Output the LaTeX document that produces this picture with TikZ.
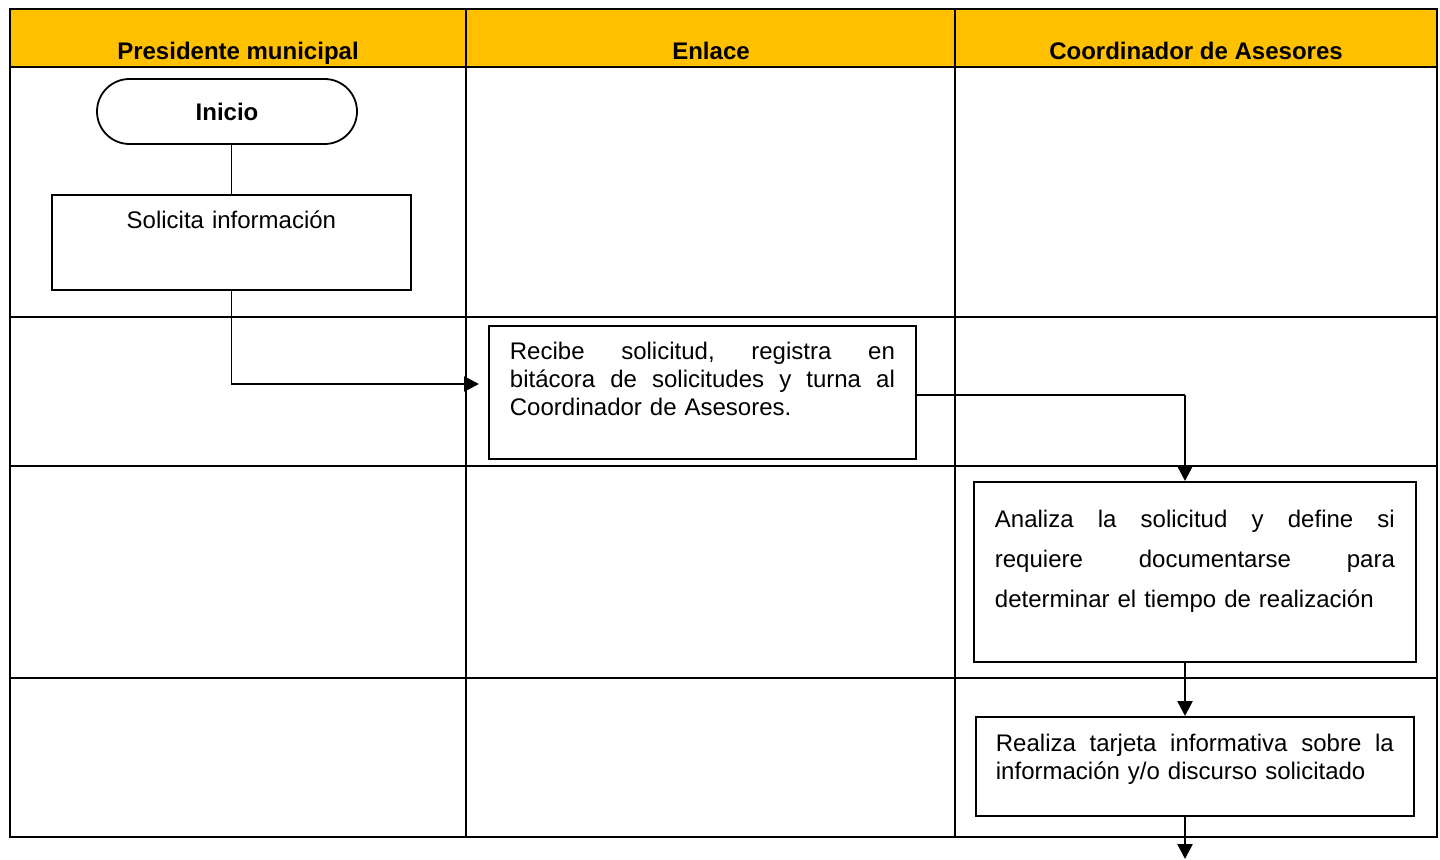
\documentclass[tikz,border=0pt]{standalone}
\usepackage{fontspec}
\setmainfont{Liberation Sans}
\usetikzlibrary{arrows.meta}
\definecolor{hdrfill}{RGB}{255,192,0}
\newcommand{\jline}[2]{\leavevmode\hbox to #1{#2}}
\begin{document}
\begin{tikzpicture}[x=0.5pt,y=-0.5pt,
  gridline/.style={line width=1.2pt},
  hdrtext/.style={font=\fontsize{12}{14}\selectfont\bfseries, anchor=base, inner sep=0pt},
  procbox/.style={draw, line width=0.9pt, inner ysep=0pt, anchor=north west, align=left, font=\fontsize{12}{13.8}\selectfont},
  connthin/.style={line width=0.6pt},
  connthick/.style={line width=1.3pt},
  tip/.style={-{Triangle[length=7.5pt,width=7.5pt]}}
]
\useasboundingbox (0,0) rectangle (1440,860);
% header band
\fill[hdrfill] (10,9) rectangle (1437,67);
% table grid
\draw[gridline] (10,9) rectangle (1437,837);
\draw[gridline] (10,67) -- (1437,67);
\draw[gridline] (10,317) -- (1437,317);
\draw[gridline] (10,466) -- (1437,466);
\draw[gridline] (10,678) -- (1437,678);
\draw[gridline] (466,9) -- (466,837);
\draw[gridline] (955,9) -- (955,837);
% header texts
\node[hdrtext] (h1) at (238,60) {Presidente municipal};
\node[hdrtext] (h2) at (711,60) {Enlace};
\node[hdrtext] (h3) at (1196,60) {Coordinador de Asesores};
% nodes
\node[draw, line width=0.9pt, rounded corners=16.25pt, minimum width=130pt, minimum height=32.5pt, inner sep=0pt, font=\fontsize{12}{14}\selectfont\bfseries] (inicio) at (227,111.5) {Inicio};
\node[procbox, align=center, inner xsep=0pt, text width=179.5pt, text height=17pt, text depth=30.5pt] (solicita) at (51,194) {Solicita información};
\node[procbox, inner xsep=10.5pt, text width=192.5pt, text height=17pt, text depth=49.5pt] (recibe) at (488,325)
  {\jline{192.5pt}{Recibe\hfill solicitud,\hfill registra\hfill en}\\
   \jline{192.5pt}{bitácora\hfill de\hfill solicitudes\hfill y\hfill turna\hfill al}\\
   Coordinador de Asesores.};
\node[procbox, font=\fontsize{12}{20}\selectfont, inner xsep=10.5pt, text width=200pt, text height=23pt, text depth=67pt] (analiza) at (973,481)
  {\jline{200pt}{Analiza\hfill la\hfill solicitud\hfill y\hfill define\hfill si}\\
   \jline{200pt}{requiere\hfill documentarse\hfill para}\\
   determinar el tiempo de realización};
\node[procbox, font=\fontsize{12}{13.6}\selectfont, inner xsep=10pt, text width=199pt, text height=17.5pt, text depth=32pt] (realiza) at (975,716)
  {\jline{199pt}{Realiza\hfill tarjeta\hfill informativa\hfill sobre\hfill la}\\
   información y/o discurso solicitado};
% helper coordinates
\coordinate (t1) at (479,384);
\coordinate (c2) at (1185,395);
\coordinate (fin) at (1185,859);
% connectors
\draw[connthin] (inicio.south -| solicita.north) -- (solicita.north);
\draw[connthin] (solicita.south) -- (solicita.south |- t1);
\draw[connthick, tip] (solicita.south |- t1) -- (t1);
\draw[connthin] (recibe.east |- c2) -- (c2);
\draw[connthick, tip] (c2) -- (c2 |- analiza.north);
\draw[connthick, tip] (analiza.south -| c2) -- (realiza.north -| c2);
\draw[connthick, tip] (realiza.south -| c2) -- (fin);
\end{tikzpicture}
\end{document}
